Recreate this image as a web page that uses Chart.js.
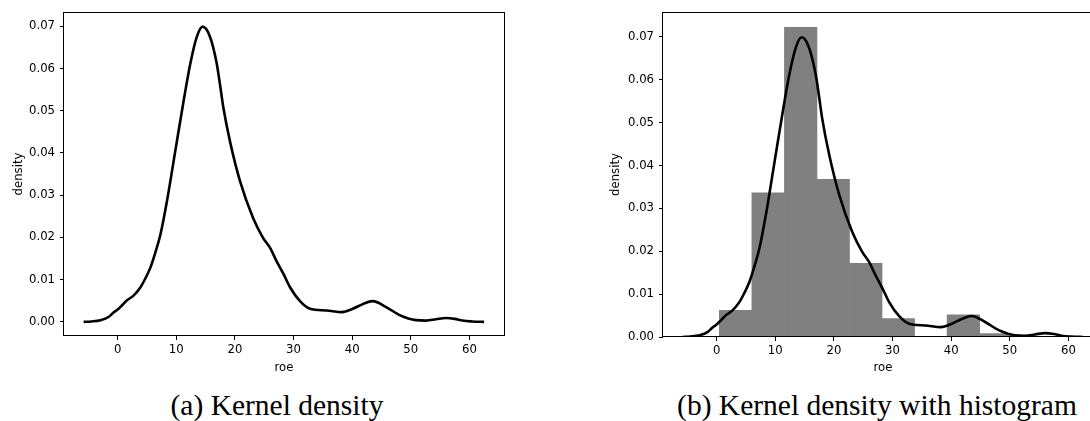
<!DOCTYPE html>
<html>
<head>
<meta charset="utf-8">
<script src="https://cdn.jsdelivr.net/npm/chart.js@4.4.1/dist/chart.umd.min.js"></script>
<style>
html, body { margin:0; padding:0; background:#fff; }
#lienzo { position:relative; width:1090px; height:421px; overflow:hidden; background:#fff; }
canvas { position:absolute; top:0; }
.pie { position:absolute; top:388px; font-family:"Liberation Serif", serif; font-size:29.5px; line-height:34px; color:#000; white-space:nowrap; transform:translateX(-50%); }
</style>
</head>
<body>
<div id="lienzo">
<canvas id="kde" width="520" height="380" style="left:0px"></canvas>
<canvas id="kdeHist" width="520" height="380" style="left:600px"></canvas>
<div class="pie" style="left:277px">(a) Kernel density</div>
<div class="pie" style="left:877px">(b) Kernel density with histogram</div>
</div>
<script>

// curva de densidad (kde) de roe
let roe = [
-5.8, -4.5, -2.9, -1.5, -0.7, 0.0, 0.8, 1.6, 2.7, 3.9, 4.7, 5.6, 6.4, 7.3, 8.4,
9.8, 11.2, 12.4, 13.5, 14.5, 15.7, 16.9, 17.5, 18.0, 19.2, 20.9, 23.1, 24.8, 26.0,
27.1, 28.3, 29.4, 31.1, 32.8, 35.6, 38.3, 40.1, 41.8, 43.5, 45.8, 48.1, 50.9,
52.6, 54.3, 56.0, 57.5, 58.8, 60.5, 62.5
];

let densidad = [
0.0000, 0.0001, 0.0004, 0.0012, 0.0022, 0.0029, 0.0040, 0.0051, 0.0062, 0.0082, 0.0102, 0.0129, 0.0163, 0.0207, 0.0285,
0.0402, 0.0519, 0.0612, 0.0675, 0.0699, 0.0677, 0.0612, 0.0558, 0.0510, 0.0425, 0.0332, 0.0246, 0.0199, 0.0175,
0.0144, 0.0113, 0.0082, 0.0049, 0.0031, 0.0027, 0.0023, 0.0031, 0.0042, 0.0049, 0.0035, 0.0016, 0.0004,
0.0003, 0.0006, 0.0009, 0.0007, 0.0003, 0.0001, 0.0000
];

// histograma: bordes de cada barra y densidad
let bordes = [0.46, 6.01, 11.56, 17.11, 22.66, 28.21, 33.76, 39.31, 44.86, 50.41, 55.96];
let alturas = [0.0062, 0.0336, 0.0722, 0.0368, 0.0172, 0.0043, 0.0, 0.0052, 0.0008, 0.0];

let ticksX = [0, 10, 20, 30, 40, 50, 60];
let ticksY = [0.00, 0.01, 0.02, 0.03, 0.04, 0.05, 0.06, 0.07];

Chart.defaults.font.family = "'DejaVu Sans', sans-serif";
Chart.defaults.font.size = 11.7;
Chart.defaults.color = '#000';


// marco negro alrededor del area del grafico
const marco = {
id:'marco',
afterDatasetsDraw(chart){
const ctx = chart.ctx;
const a = chart.chartArea;
ctx.save();
ctx.strokeStyle = '#000';
ctx.lineWidth = 1;
ctx.strokeRect(Math.round(a.left) - 0.5, Math.round(a.top) + 0.5, Math.round(a.right - a.left) + 1, Math.round(a.bottom - a.top) - 1);
ctx.restore();
}
};


function ejes(yMin, yMax, anchoY, altoX, padTitulo){

return {

x:{
type:'linear',
min:-9.15,
max:65.9,
offset:false,
afterBuildTicks: s => { s.ticks = ticksX.map(v => ({value:v})); },
afterFit: s => { s.height = altoX; },
ticks:{ padding:3, maxRotation:0, autoSkip:false, callback: v => String(v) },
grid:{ offset:false, drawOnChartArea:false, drawTicks:true, tickLength:4, tickColor:'#000', tickWidth:1 },
border:{ display:false },
title:{ display:true, text:'roe', padding:{ top:0, bottom:5 } }
},

y:{
type:'linear',
min:yMin,
max:yMax,
afterBuildTicks: s => { s.ticks = ticksY.map(v => ({value:v})); },
afterFit: s => { s.width = anchoY; },
ticks:{ padding:5, callback: v => v.toFixed(2) },
grid:{ offset:false, drawOnChartArea:false, drawTicks:true, tickLength:4, tickColor:'#000', tickWidth:1 },
border:{ display:false },
title:{ display:true, text:'density', padding:{ top:padTitulo, bottom:0 } }
}

};

}


let curva = roe.map((x, i) => ({ x:x, y:densidad[i] }));

function datasetCurva(){
return {
type:'line',
data:curva,
borderColor:'#000',
borderWidth:2.6,
pointRadius:0,
fill:false,
cubicInterpolationMode:'monotone',
order:0
};
}


// GRAFICO (a): solo densidad
new Chart(document.getElementById('kde').getContext('2d'), {

type:'line',

data:{ datasets:[ datasetCurva() ] },

options:{
responsive:false,
devicePixelRatio:1,
animation:false,
layout:{ padding:{ top:8, right:16, left:0, bottom:0 } },
plugins:{ legend:{ display:false }, tooltip:{ enabled:false } },
scales:ejes(-0.00335, 0.07337, 64, 44, 12)
},

plugins:[marco]

});


// GRAFICO (b): densidad con histograma
let barras = alturas.map((h, i) => ({ x:(bordes[i] + bordes[i + 1]) / 2, y:h }));

new Chart(document.getElementById('kdeHist').getContext('2d'), {

type:'line',

data:{
datasets:[
datasetCurva(),
{
type:'bar',
data:barras,
backgroundColor:'#808080',
borderWidth:0,
barPercentage:1,
categoryPercentage:1,
order:1
}
]
},

options:{
responsive:false,
devicePixelRatio:1,
animation:false,
layout:{ padding:{ top:8, right:17, left:0, bottom:0 } },
plugins:{ legend:{ display:false }, tooltip:{ enabled:false } },
scales:ejes(0, 0.0758, 63, 43, 9)
},

plugins:[marco]

});

</script>
</body>
</html>
